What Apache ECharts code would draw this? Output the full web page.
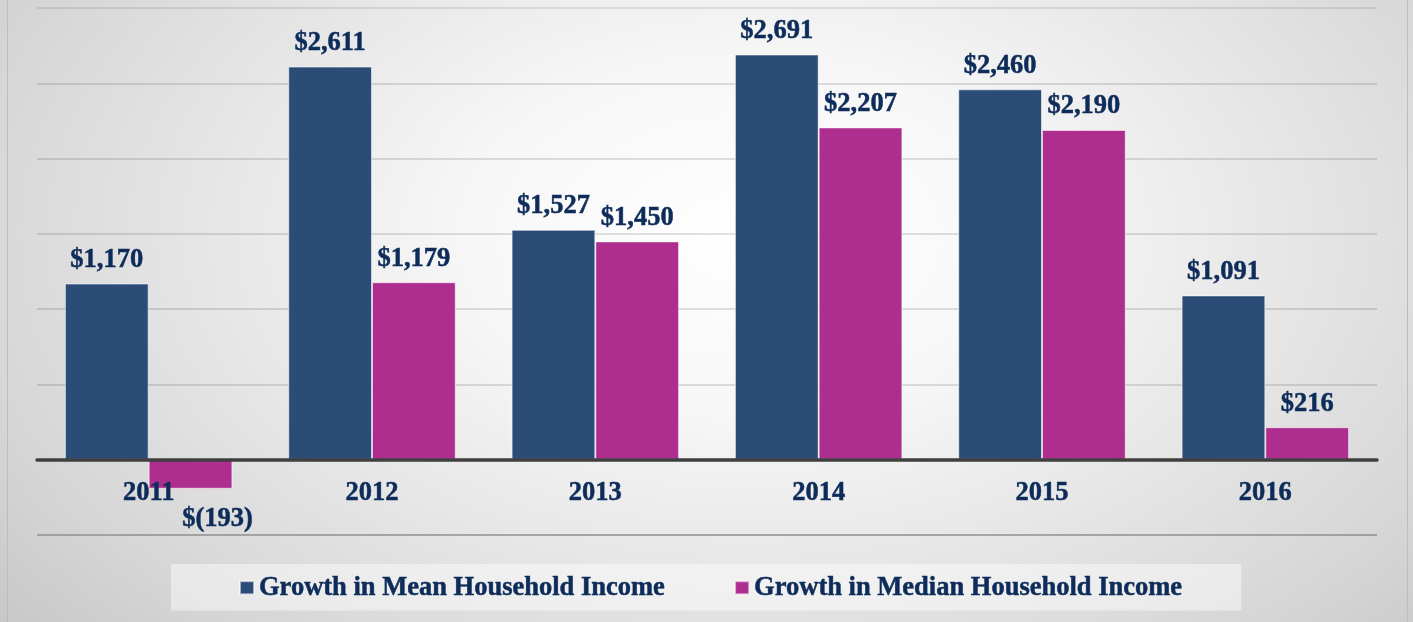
<!DOCTYPE html>
<html>
<head>
<meta charset="utf-8">
<script src="https://cdn.jsdelivr.net/npm/echarts@6/dist/echarts.min.js"></script>
<style>
    html, body { margin: 0; padding: 0; }
    #wrap {
        position: relative;
        width: 1413px;
        height: 622px;
        background: radial-gradient(ellipse 70% 100% at 53% 38%, #ffffff 0%, #f7f7f7 28%, #d6d6d6 80%, #c6c6c6 100%);
    }
    #chart { position: absolute; left: 0; top: 0; width: 1413px; height: 622px; }
    .edge { position: absolute; top: 0; width: 1px; height: 622px; background: #bdbdbd; }
</style>
</head>
<body>
<div id="wrap">
    <div class="edge" style="left:7px"></div>
    <div class="edge" style="left:1407px"></div>
    <div id="chart"></div>
</div>
<script>
var years = ['2011', '2012', '2013', '2014', '2015', '2016'];
var meanGrowth = [1170, 2611, 1527, 2691, 2460, 1091];
var medianGrowth = [-193, 1179, 1450, 2207, 2190, 216];
var seriesNames = ['Growth in Mean Household Income', 'Growth in Median Household Income'];

var navy = '#0e2c5a';
var serif = '"Liberation Serif", "Times New Roman", serif';

function money(v) {
    var s = Math.abs(v).toString().replace(/\B(?=(\d{3})+(?!\d))/g, ',');
    return v < 0 ? '$(' + s + ')' : '$' + s;
}

// negative bars carry their label underneath, nudged right like the original
function withLabels(arr) {
    return arr.map(function (v) {
        if (v < 0) {
            return { value: v, label: { position: 'bottom', distance: 17, offset: [27, 0] } };
        }
        return v;
    });
}

var chart = echarts.init(document.getElementById('chart'));

// bold serif text, slightly stroked to look as heavy as the original
var textBase = {
    color: navy,
    fontFamily: serif,
    fontWeight: 'bold',
    fontSize: 26.5,
    textBorderColor: navy,
    textBorderWidth: 0.5
};

var labelStyle = Object.assign({
    show: true,
    position: 'top',
    distance: 10,
    formatter: function (p) { return money(p.value); }
}, textBase);

var option = {
    backgroundColor: 'transparent',
    animation: false,
    grid: { left: 37, right: 36, top: 8, bottom: 87 },
    legend: {
        data: seriesNames,
        icon: 'rect',
        left: 171,
        top: 564,
        padding: [10, 59, 9, 68],
        backgroundColor: 'rgba(255,255,255,0.45)',
        itemWidth: 14,
        itemHeight: 13,
        itemGap: 69,
        textStyle: textBase
    },
    xAxis: {
        type: 'category',
        data: years,
        z: 3,
        // sit the axis on the zero line (-500..3000 over 527px)
        offset: -75.3,
        axisLine: { onZero: false, lineStyle: { color: '#3f3f3f', width: 3.5 } },
        axisTick: { show: false },
        axisLabel: Object.assign({ margin: 20 }, textBase)
    },
    yAxis: {
        type: 'value',
        min: -500,
        max: 3000,
        interval: 500,
        axisLabel: { show: false },
        axisLine: { show: false },
        axisTick: { show: false },
        splitLine: {
            lineStyle: {
                width: 1.5,
                color: ['#8f8f8f', 'rgba(0,0,0,0.16)', 'rgba(0,0,0,0.16)', 'rgba(0,0,0,0.16)',
                        'rgba(0,0,0,0.16)', 'rgba(0,0,0,0.16)', 'rgba(0,0,0,0.16)', 'rgba(0,0,0,0.12)']
            }
        }
    },
    series: [
        {
            name: seriesNames[0],
            type: 'bar',
            data: withLabels(meanGrowth),
            barGap: 0,
            barCategoryGap: '25%',
            itemStyle: { color: '#2a4c76', borderColor: 'rgba(255,255,255,0.55)', borderWidth: 1 },
            label: labelStyle
        },
        {
            name: seriesNames[1],
            type: 'bar',
            data: withLabels(medianGrowth),
            itemStyle: { color: '#ae2e8f', borderColor: 'rgba(255,255,255,0.55)', borderWidth: 1 },
            label: labelStyle
        }
    ]
};

chart.setOption(option);
window.addEventListener('resize', chart.resize);
</script>
</body>
</html>
